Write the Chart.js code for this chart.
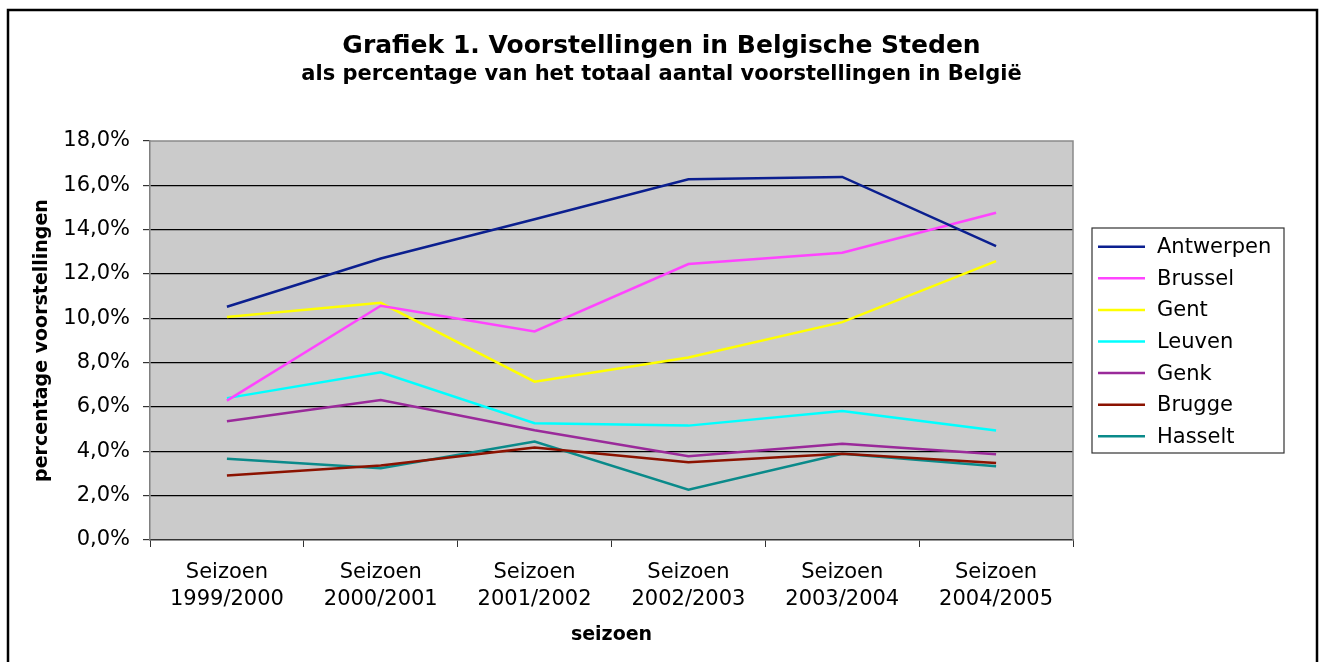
<!DOCTYPE html>
<html>
<head>
<meta charset="utf-8">
<script src="https://cdn.jsdelivr.net/npm/chart.js@4/dist/chart.umd.min.js"></script>
<style>
    body { margin: 0; background: #fff; }
    #wrap { width: 1323px; height: 662px; }
</style>
</head>
<body>
<div id="wrap"><canvas id="chart" width="1323" height="662"></canvas></div>
<script>
// Seasons (x categories)
const seasons = ['1999/2000', '2000/2001', '2001/2002', '2002/2003', '2003/2004', '2004/2005'];

// Share of all performances in Belgium, in percent
const antwerpen = [10.52, 12.70, 14.47, 16.27, 16.38, 13.26];
const brussel = [6.29, 10.57, 9.41, 12.45, 12.96, 14.76];
const gent = [10.06, 10.70, 7.14, 8.23, 9.83, 12.58];
const leuven = [6.40, 7.57, 5.27, 5.16, 5.82, 4.94];
const genk = [5.36, 6.32, 4.95, 3.78, 4.34, 3.87];
const brugge = [2.91, 3.36, 4.17, 3.51, 3.89, 3.47];
const hasselt = [3.66, 3.24, 4.44, 2.27, 3.89, 3.33];

const cities = ['Antwerpen', 'Brussel', 'Gent', 'Leuven', 'Genk', 'Brugge', 'Hasselt'];
const series = [antwerpen, brussel, gent, leuven, genk, brugge, hasselt];
const colors = ['#0b1f8f', '#ff44ff', '#ffff00', '#00ffff', '#9a2a9a', '#8b1200', '#0a8a8a'];

// y axis: 0% .. 18% in steps of 2
const yMin = 0, yMax = 18, yStep = 2;

Chart.defaults.font.family = 'DejaVu Sans';
Chart.defaults.color = '#000';

// frame, grey plot area and the boxed legend
const excelLook = {
    id: 'excelLook',
    beforeDraw(chart) {
        const ctx = chart.ctx;
        const a = chart.chartArea;
        ctx.save();
        ctx.fillStyle = '#fff';
        ctx.fillRect(0, 0, chart.width, chart.height);
        ctx.fillStyle = '#cbcbcb';
        ctx.fillRect(a.left, a.top, a.right - a.left, a.bottom - a.top);
        ctx.strokeStyle = '#000';
        ctx.lineWidth = 2.5;
        ctx.strokeRect(8, 10, 1309, 700);
        ctx.restore();
    },
    afterDatasetsDraw(chart) {
        const ctx = chart.ctx;
        const a = chart.chartArea;
        ctx.save();
        ctx.strokeStyle = '#8a8a8a';
        ctx.lineWidth = 1.5;
        ctx.beginPath();
        ctx.moveTo(a.left, a.top);
        ctx.lineTo(a.right, a.top);
        ctx.lineTo(a.right, a.bottom);
        ctx.stroke();
        ctx.restore();
    },
    afterDraw(chart) {
        const ctx = chart.ctx;
        ctx.save();
        ctx.fillStyle = '#fff';
        ctx.fillRect(1092, 228, 192, 225);
        ctx.strokeStyle = '#333';
        ctx.lineWidth = 1.2;
        ctx.strokeRect(1092, 228, 192, 225);
        ctx.font = '21px "DejaVu Sans"';
        ctx.textBaseline = 'middle';
        chart.data.datasets.forEach((ds, i) => {
            const y = 246.7 + i * 31.6;
            ctx.strokeStyle = ds.borderColor;
            ctx.lineWidth = 2.5;
            ctx.beginPath();
            ctx.moveTo(1098, y);
            ctx.lineTo(1145, y);
            ctx.stroke();
            ctx.fillStyle = '#000';
            ctx.fillText(ds.label, 1157, y + 1);
        });
        ctx.restore();
    }
};

new Chart(document.getElementById('chart').getContext('2d'), {
    type: 'line',
    data: {
        labels: seasons.map(s => ['Seizoen', s]),
        datasets: cities.map((c, i) => ({
            label: c,
            data: series[i],
            borderColor: colors[i],
            backgroundColor: colors[i],
            borderWidth: 2.5,
            pointRadius: 0,
            tension: 0,
            fill: false
        }))
    },
    options: {
        responsive: false,
        animation: false,
        layout: { padding: 0 },
        plugins: {
            legend: { display: false },
            tooltip: { enabled: false },
            title: {
                display: true,
                text: 'Grafiek 1. Voorstellingen in Belgische Steden',
                font: { size: 25, weight: 'bold' },
                color: '#000',
                padding: { top: 31, bottom: 0 }
            },
            subtitle: {
                display: true,
                text: 'als percentage van het totaal aantal voorstellingen in België',
                font: { size: 21, weight: 'bold' },
                color: '#000',
                padding: { top: 0.5, bottom: 54.3 }
            }
        },
        scales: {
            x: {
                offset: true,
                afterFit(scale) { scale.height = 122; },
                grid: {
                    offset: true,
                    drawOnChartArea: false,
                    drawTicks: true,
                    tickLength: 7,
                    color: '#333'
                },
                border: { color: '#333', width: 1.5 },
                ticks: {
                    font: { size: 21, lineHeight: 1.3 },
                    padding: 12,
                    maxRotation: 0,
                    autoSkip: false
                },
                title: {
                    display: true,
                    text: 'seizoen',
                    font: { size: 19, weight: 'bold' },
                    padding: { top: 0, bottom: 16 }
                }
            },
            y: {
                min: yMin,
                max: yMax,
                afterFit(scale) { scale.width = 150; },
                grid: {
                    color: ctx => (ctx.tick && (ctx.tick.value === yMin || ctx.tick.value === yMax)) ? 'rgba(0,0,0,0)' : '#000',
                    tickColor: '#333',
                    tickLength: 7,
                    lineWidth: 1.2
                },
                border: { color: '#808080', width: 1.5 },
                ticks: {
                    stepSize: yStep,
                    font: { size: 21 },
                    padding: 13,
                    callback: v => v.toFixed(1).replace('.', ',') + '%'
                },
                title: {
                    display: true,
                    text: 'percentage voorstellingen',
                    font: { size: 19, weight: 'bold' },
                    padding: { top: 31, bottom: 0 }
                }
            },
            // empty right-hand axis that keeps room for the legend box
            room: {
                position: 'right',
                min: yMin,
                max: yMax,
                afterFit(scale) { scale.width = 250; },
                grid: { display: false },
                border: { display: false },
                ticks: { display: false }
            }
        }
    },
    plugins: [excelLook]
});
</script>
</body>
</html>
